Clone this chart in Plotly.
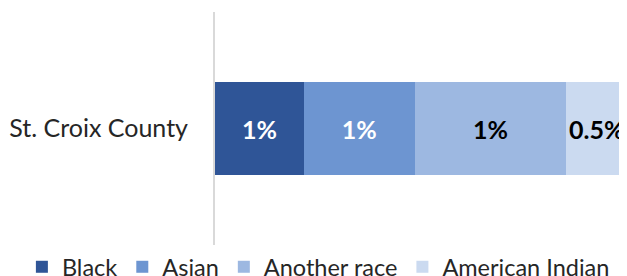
import plotly.graph_objects as go

categories = ["St. Croix County"]
series_names = ["Black", "Asian", "Another race", "American Indian"]
series_values = [0.84, 1.05, 1.43, 0.50]
series_labels = ["1%", "1%", "1%", "0.5%"]
series_colors = ["#2F5597", "#6D95D1", "#9DB8E1", "#CBDAF0"]
label_colors = ["white", "white", "black", "black"]

FONT = "Lato, 'Open Sans', sans-serif"
LABEL_SIZE = 25

fig = go.Figure()
n = len(series_names)
for i, (name, val, lab, col, lc) in enumerate(zip(series_names, series_values, series_labels, series_colors, label_colors)):
    last = i == n - 1
    fig.add_trace(go.Bar(
        y=categories, x=[val], name=name, orientation="h",
        marker=dict(color=col, line=dict(width=0)),
        text=None if last else [lab],
        textposition="none" if last else "inside",
        insidetextanchor="middle",
        textfont=dict(color=lc, size=LABEL_SIZE, family=FONT, weight="bold"),
        width=0.4,
    ))

# last segment label overflows its narrow segment, as in the original
fig.add_annotation(
    x=sum(series_values[:-1]) + series_values[-1] / 2, y=categories[0],
    xref="x", yref="y", text=series_labels[-1], showarrow=False,
    font=dict(color=label_colors[-1], size=LABEL_SIZE, family=FONT, weight="bold"),
    xshift=4,
)

# page body has an 8px default margin, so the figure is sized to fit the window
fig.update_layout(
    barmode="stack",
    width=619, height=268,
    margin=dict(l=207, r=8, t=4, b=31, autoexpand=False),
    paper_bgcolor="white", plot_bgcolor="white",
    font=dict(family=FONT, color="#262626"),
    showlegend=True,
    legend=dict(orientation="h", xref="paper", yref="paper",
                x=-0.478, xanchor="left", y=0, yanchor="top",
                font=dict(size=23.5, color="#262626", family=FONT),
                itemwidth=30, traceorder="normal", tracegroupgap=0),
)
fig.update_xaxes(range=[0, sum(series_values)], visible=False, showgrid=False, zeroline=False)
fig.update_yaxes(showline=True, linecolor="#D9D9D9", linewidth=2, showgrid=False, automargin=False,
                 ticks="", tickfont=dict(size=25, color="#262626", family=FONT),
                 ticklabelstandoff=20, range=[-0.5, 0.5])

fig.write_html("out.html")
